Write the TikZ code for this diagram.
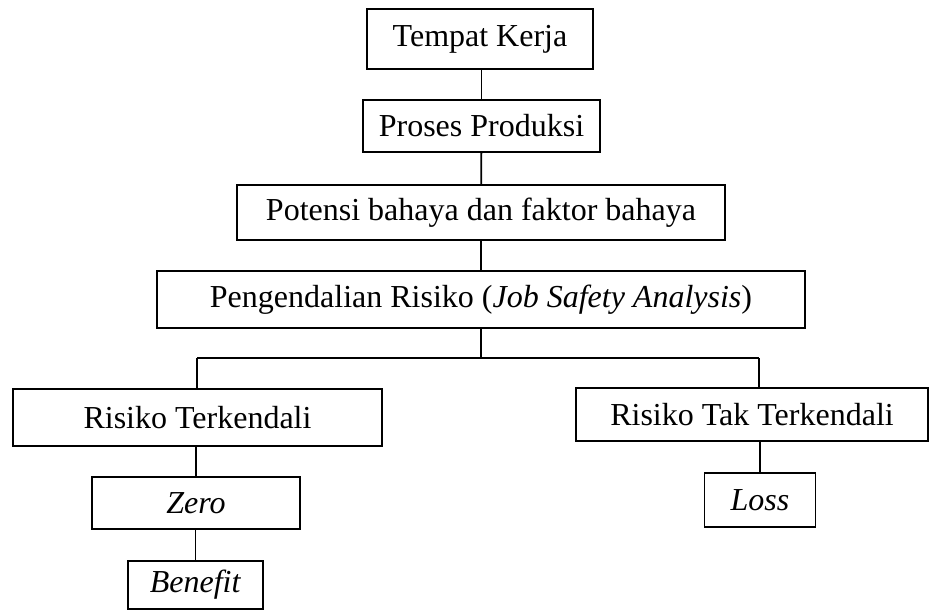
\documentclass[tikz,border=0pt]{standalone}
\usepackage{fontspec}
\setmainfont{Liberation Serif}
\usetikzlibrary{positioning}

\tikzset{
	kotak/.style={draw, line width=0.9pt, rectangle, inner sep=0pt, font=\fontsize{16}{19}\selectfont},
	garis/.style={line width=0.9pt}
}

\begin{document}
\begin{tikzpicture}[x=0.5pt,y=-0.5pt]
	\useasboundingbox (0,0) rectangle (930,610);

	% kotak atas
	\node [kotak, minimum width=113pt, minimum height=30pt] (kerja) at (480,39) {Tempat Kerja};
	\node [kotak, minimum width=118.5pt, minimum height=26pt] (proses) at (481.5,126) {Proses Produksi};
	\node [kotak, minimum width=244pt, minimum height=27.5pt] (potensi) at (481,212.5) {Potensi bahaya dan faktor bahaya};
	\node [kotak, minimum width=324pt, minimum height=28.5pt] (kendali) at (481,299.5) {Pengendalian Risiko (\textit{Job Safety Analysis})};

	% cabang
	\node [kotak, minimum width=184.5pt, minimum height=28.5pt] (terkendali) at (197.5,417.5) {Risiko Terkendali};
	\node [kotak, minimum width=176pt, minimum height=26.5pt] (takterkendali) at (752,414.5) {Risiko Tak Terkendali};
	\node [kotak, minimum width=104pt, minimum height=26pt] (zero) at (196,503) {\textit{Zero}};
	\node [kotak, minimum width=67.5pt, minimum height=24pt] (benefit) at (195.5,585) {\textit{Benefit}};
	\node [kotak, minimum width=55.5pt, minimum height=27pt] (loss) at (760,500) {\textit{Loss}};

	\coordinate (busL) at (197,358);
	\coordinate (busR) at (759,358);

	% garis penghubung
	\draw [garis] (kerja.south -| proses) -- (proses);
	\draw [garis] (proses) -- (potensi);
	\draw [garis] (potensi) -- (kendali);
	\draw [garis] (kendali.south) -- (kendali.south |- busL);
	\draw [garis] (busL) -- (busR);
	\draw [garis] (busL) -- (busL |- terkendali.north);
	\draw [garis] (busR) -- (busR |- takterkendali.north);
	\draw [garis] (terkendali.south -| zero) -- (zero);
	\draw [garis] (zero.south -| benefit) -- (benefit);
	\draw [garis] (takterkendali.south -| loss) -- (loss);
\end{tikzpicture}
\end{document}
